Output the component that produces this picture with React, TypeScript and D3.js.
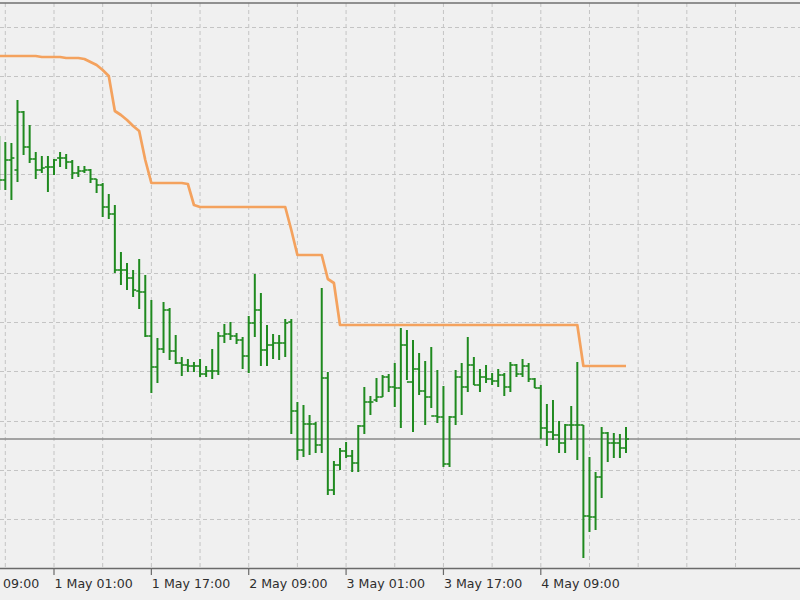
import React from "react";
import * as d3 from "d3";

// ---- data (hourly OHLC bars, first bar 30 Apr 16:00) ----
const firstBarTime = "2018-04-30T16:00:00Z";

const opens = [
  1.1403,1.1388,1.1408,1.1398,1.1456,1.1421,1.1409,1.1398,1.1401,1.1401,
  1.1410,1.1410,1.1406,1.1395,1.1397,1.1398,1.1389,1.1383,1.1361,1.1354,
  1.1298,1.1298,1.1290,1.1277,1.1276,1.1232,1.1201,1.1219,1.1258,1.1217,
  1.1205,1.1203,1.1202,1.1202,1.1194,1.1197,1.1197,1.1232,1.1234,1.1232,
  1.1228,1.1212,1.1245,1.1258,1.1218,1.1223,1.1225,1.1225,1.1246,1.1157,
  1.1118,1.1144,1.1144,1.1123,1.1190,1.1078,1.1103,1.1117,1.1112,1.1105,
  1.1142,1.1166,1.1168,1.1171,1.1191,1.1181,1.1180,1.1223,1.1186,1.1199,
  1.1177,1.1171,1.1152,1.1151,1.1104,1.1151,1.1191,1.1181,1.1203,1.1183,
  1.1191,1.1189,1.1187,1.1193,1.1181,1.1203,1.1194,1.1202,1.1189,1.1180,
  1.1140,1.1136,1.1133,1.1125,1.1143,1.1143,1.1143,1.1052,1.1051,1.1091,
  1.1135,1.1125,1.1125,1.1120,
];

const highs = [
  1.1432,1.1426,1.1425,1.1468,1.1457,1.1443,1.1416,1.1412,1.1412,1.1409,
  1.1416,1.1414,1.1408,1.1402,1.1402,1.1399,1.1389,1.1385,1.1374,1.1363,
  1.1316,1.1305,1.1298,1.1309,1.1293,1.1268,1.1230,1.1266,1.1260,1.1233,
  1.1211,1.1209,1.1206,1.1209,1.1202,1.1219,1.1236,1.1244,1.1246,1.1235,
  1.1231,1.1252,1.1294,1.1275,1.1243,1.1234,1.1233,1.1249,1.1249,1.1166,
  1.1163,1.1153,1.1146,1.1280,1.1196,1.1107,1.1120,1.1126,1.1118,1.1143,
  1.1181,1.1172,1.1190,1.1193,1.1194,1.1205,1.1240,1.1238,1.1228,1.1215,
  1.1207,1.1221,1.1198,1.1182,1.1152,1.1198,1.1205,1.1231,1.1211,1.1199,
  1.1203,1.1195,1.1199,1.1195,1.1206,1.1204,1.1209,1.1205,1.1190,1.1183,
  1.1164,1.1168,1.1147,1.1144,1.1162,1.1206,1.1143,1.1111,1.1096,1.1141,
  1.1136,1.1135,1.1134,1.1141,
];

const lows = [
  1.1378,1.1378,1.1368,1.1386,1.1413,1.1405,1.1389,1.1395,1.1376,1.1393,
  1.1401,1.1399,1.1389,1.1391,1.1395,1.1385,1.1375,1.1351,1.1349,1.1295,
  1.1283,1.1278,1.1271,1.1259,1.1231,1.1175,1.1185,1.1215,1.1208,1.1204,
  1.1192,1.1196,1.1196,1.1191,1.1191,1.1189,1.1193,1.1225,1.1228,1.1224,
  1.1199,1.1195,1.1231,1.1202,1.1202,1.1209,1.1208,1.1211,1.1134,1.1108,
  1.1111,1.1113,1.1115,1.1115,1.1073,1.1073,1.1098,1.1110,1.1096,1.1096,
  1.1134,1.1153,1.1166,1.1171,1.1176,1.1161,1.1140,1.1188,1.1136,1.1173,
  1.1143,1.1160,1.1145,1.1101,1.1101,1.1143,1.1153,1.1176,1.1183,1.1176,
  1.1185,1.1183,1.1181,1.1172,1.1176,1.1191,1.1191,1.1186,1.1180,1.1129,
  1.1122,1.1128,1.1115,1.1115,1.1128,1.1108,1.1010,1.1036,1.1038,1.1070,
  1.1106,1.1110,1.1110,1.1115,
];

const closes = [
  1.1388,1.1408,1.1410,1.1456,1.1421,1.1409,1.1398,1.1400,1.1401,1.1408,
  1.1410,1.1406,1.1395,1.1397,1.1398,1.1389,1.1383,1.1361,1.1354,1.1298,
  1.1298,1.1290,1.1278,1.1276,1.1232,1.1201,1.1219,1.1258,1.1217,1.1205,
  1.1203,1.1202,1.1202,1.1194,1.1197,1.1197,1.1232,1.1234,1.1232,1.1228,
  1.1212,1.1245,1.1258,1.1218,1.1223,1.1225,1.1225,1.1245,1.1157,1.1118,
  1.1144,1.1144,1.1123,1.1190,1.1078,1.1103,1.1117,1.1112,1.1105,1.1142,
  1.1166,1.1166,1.1171,1.1191,1.1181,1.1180,1.1223,1.1186,1.1199,1.1177,
  1.1171,1.1152,1.1151,1.1104,1.1151,1.1191,1.1181,1.1203,1.1183,1.1191,
  1.1189,1.1187,1.1193,1.1181,1.1203,1.1194,1.1202,1.1189,1.1180,1.1140,
  1.1136,1.1133,1.1125,1.1143,1.1143,1.1143,1.1052,1.1051,1.1091,1.1135,
  1.1125,1.1125,1.1120,1.1129,
];

// orange indicator line (one value per bar)
const upperLine = [
  1.1512,1.1512,1.1512,1.1512,1.1512,1.1512,1.1512,1.1511,1.1511,1.1511,
  1.1511,1.1510,1.1510,1.1510,1.1509,1.1506,1.1503,1.1498,1.1492,1.1457,
  1.1453,1.1448,1.1442,1.1437,1.1408,1.1385,1.1385,1.1385,1.1385,1.1385,
  1.1385,1.1384,1.1363,1.1361,1.1361,1.1361,1.1361,1.1361,1.1361,1.1361,
  1.1361,1.1361,1.1361,1.1361,1.1361,1.1361,1.1361,1.1361,1.1338,1.1313,
  1.1313,1.1313,1.1313,1.1313,1.1289,1.1285,1.1243,1.1243,1.1243,1.1243,
  1.1243,1.1243,1.1243,1.1243,1.1243,1.1243,1.1243,1.1243,1.1243,1.1243,
  1.1243,1.1243,1.1243,1.1243,1.1243,1.1243,1.1243,1.1243,1.1243,1.1243,
  1.1243,1.1243,1.1243,1.1243,1.1243,1.1243,1.1243,1.1243,1.1243,1.1243,
  1.1243,1.1243,1.1243,1.1243,1.1243,1.1243,1.1202,1.1202,1.1202,1.1202,
  1.1202,1.1202,1.1202,1.1202,
];

const tickLabels = [
  "30 Apr 09:00",
  "1 May 01:00",
  "1 May 17:00",
  "2 May 09:00",
  "3 May 01:00",
  "3 May 17:00",
  "4 May 09:00",
];

// horizontal grid levels (price scale, labels off-screen)
const gridPrices = [
  1.1049, 1.1098, 1.1147, 1.1197, 1.1246, 1.1295, 1.1344, 1.1394, 1.1443, 1.1492, 1.1541,
];

// ---- layout ----
const W = 800;
const H = 600;
const plotTop = 3;
const plotBottom = 568;

const parseLabel = d3.utcParse("%Y %d %b %H:%M");
const tickTimes = tickLabels.map((s) => parseLabel("2018 " + s) as Date);

const start = new Date(firstBarTime);
const barTimes = opens.map((_, i) => d3.utcHour.offset(start, i));

const xScale = d3
  .scaleUtc()
  .domain([tickTimes[1], tickTimes[6]])
  .range([54, 540.8]);

const yScale = d3.scaleLinear().domain([1.1, 1.1565]).range([plotBottom, plotTop]);

const gridTimes = d3.utcHour.range(
  tickTimes[0],
  d3.utcHour.offset(tickTimes[6], 40),
  8
);

const BAR = "#1f8a1f";
const ORANGE = "#f4a25e";

export default function App() {
  const line = d3
    .line<number>()
    .x((_, i) => xScale(barTimes[i]))
    .y((d) => yScale(d));

  const lastClose = closes[closes.length - 1];
  const tick = 3;

  return (
    <div style={{ position: "absolute", left: 0, top: 0, width: W, height: H }}>
      <svg width={W} height={H} style={{ display: "block" }}>
        <defs>
          <clipPath id="plot">
            <rect x={0} y={plotTop} width={W} height={plotBottom - plotTop} />
          </clipPath>
        </defs>
        <rect x={0} y={0} width={W} height={H} fill="#f0f0f0" />

        <g clipPath="url(#plot)">
          {gridPrices.map((p, i) => (
            <line
              key={"h" + i}
              x1={0}
              x2={W}
              y1={Math.round(yScale(p)) + 0.5}
              y2={Math.round(yScale(p)) + 0.5}
              stroke="#c4c4c4"
              strokeWidth={1}
              strokeDasharray="4 3"
            />
          ))}
          {gridTimes.map((t, i) => (
            <line
              key={"v" + i}
              x1={xScale(t)}
              x2={xScale(t)}
              y1={plotTop}
              y2={plotBottom}
              stroke="#c4c4c4"
              strokeWidth={1}
              strokeDasharray="4 3"
            />
          ))}

          <line
            x1={0}
            x2={W}
            y1={yScale(lastClose)}
            y2={yScale(lastClose)}
            stroke="#8a8a8a"
            strokeWidth={1.4}
          />

          <path
            d={line(upperLine) || ""}
            fill="none"
            stroke={ORANGE}
            strokeWidth={2.7}
            strokeLinejoin="round"
          />

          {opens.map((o, i) => {
            const x = xScale(barTimes[i]);
            return (
              <g key={"b" + i} stroke={BAR}>
                <line
                  x1={x}
                  x2={x}
                  y1={yScale(highs[i])}
                  y2={yScale(lows[i])}
                  strokeWidth={2}
                />
                <line
                  x1={x - tick}
                  x2={x}
                  y1={yScale(o)}
                  y2={yScale(o)}
                  strokeWidth={1.6}
                />
                <line
                  x1={x}
                  x2={x + tick}
                  y1={yScale(closes[i])}
                  y2={yScale(closes[i])}
                  strokeWidth={1.6}
                />
              </g>
            );
          })}
        </g>

        <line x1={0} x2={W} y1={plotTop} y2={plotTop} stroke="#707070" strokeWidth={1.6} />
        <line
          x1={0}
          x2={W}
          y1={plotBottom + 0.5}
          y2={plotBottom + 0.5}
          stroke="#6a6a6a"
          strokeWidth={1.6}
        />

        {tickTimes.map((t, i) => (
          <g key={"t" + i}>
            <line
              x1={xScale(t)}
              x2={xScale(t)}
              y1={plotBottom + 1}
              y2={plotBottom + 7}
              stroke="#6a6a6a"
              strokeWidth={1.2}
            />
            <text
              x={xScale(t) + 0.5}
              y={588}
              fontFamily="DejaVu Sans, Verdana, sans-serif"
              fontSize={12.6}
              fill="#2e2e2e"
            >
              {tickLabels[i]}
            </text>
          </g>
        ))}
      </svg>
    </div>
  );
}
